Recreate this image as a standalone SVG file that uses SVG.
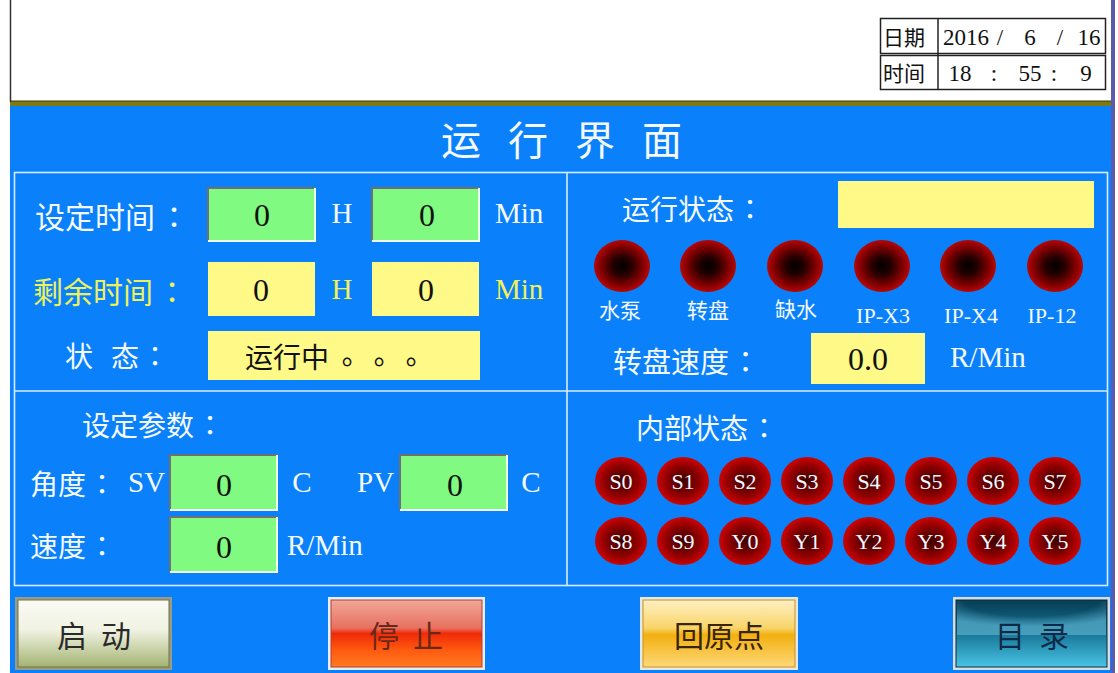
<svg xmlns="http://www.w3.org/2000/svg" width="1118" height="673" viewBox="0 0 1118 673">
<defs>
<style>
.cjk{font-family:"Noto Sans CJK SC","Noto Sans",sans-serif;dominant-baseline:central}
.lat{font-family:"Liberation Serif","Noto Sans CJK SC",serif;dominant-baseline:central}
.col{font-family:"Noto Sans CJK TC","Noto Sans CJK SC",sans-serif}
.w{fill:#f4faff}
.y{fill:#eef25a}
.k{fill:#111}
.mid{text-anchor:middle}
.gbox{fill:#80fa80}
.ybox{fill:#fffa88}
.frame{stroke:#d8ecff;stroke-width:1.6;fill:none}
.led{fill:url(#ledTop)}
.iled{fill:url(#ledIn)}
</style>
<radialGradient id="ledTop" cx="0.5" cy="0.5" r="0.5">
<stop offset="0" stop-color="#000"/>
<stop offset="0.35" stop-color="#260000"/>
<stop offset="0.75" stop-color="#820000"/>
<stop offset="1" stop-color="#b40808"/>
</radialGradient>
<radialGradient id="ledIn" cx="0.5" cy="0.5" r="0.5">
<stop offset="0" stop-color="#3a0000"/>
<stop offset="0.6" stop-color="#8a0000"/>
<stop offset="1" stop-color="#cc0404"/>
</radialGradient>
<linearGradient id="gStart" x1="0" y1="0" x2="0" y2="1">
<stop offset="0" stop-color="#fbfbf4"/>
<stop offset="0.45" stop-color="#f0f2e2"/>
<stop offset="1" stop-color="#a4b472"/>
</linearGradient>
<linearGradient id="gStop" x1="0" y1="0" x2="0" y2="1">
<stop offset="0" stop-color="#f0a898"/>
<stop offset="0.42" stop-color="#e87060"/>
<stop offset="0.5" stop-color="#f02a08"/>
<stop offset="0.75" stop-color="#ff5a10"/>
<stop offset="1" stop-color="#ff7a20"/>
</linearGradient>
<linearGradient id="gHome" x1="0" y1="0" x2="0" y2="1">
<stop offset="0" stop-color="#fff0c4"/>
<stop offset="0.42" stop-color="#f8d468"/>
<stop offset="0.52" stop-color="#f2b010"/>
<stop offset="1" stop-color="#ffd878"/>
</linearGradient>
<linearGradient id="gMenu" x1="0" y1="0" x2="0" y2="1">
<stop offset="0" stop-color="#083c54"/>
<stop offset="0.45" stop-color="#136e90"/>
<stop offset="1" stop-color="#48c4e4"/>
</linearGradient>
<radialGradient id="gMenuHi" cx="0.5" cy="0" r="0.75">
<stop offset="0.6" stop-color="#5ab0cc" stop-opacity="0"/>
<stop offset="1" stop-color="#5ab0cc" stop-opacity="0.7"/>
</radialGradient>
</defs>

<rect x="0" y="0" width="1118" height="673" fill="#fff"/>
<g id="screen">
<rect x="10" y="105" width="1102" height="568" fill="#0a80fa"/>
<rect x="10" y="101" width="1102" height="5" fill="#7c7a10"/>
<line x1="10" y1="101" x2="1112" y2="101" stroke="#3a3a10" stroke-width="1"/>
<line x1="10.5" y1="0" x2="10.5" y2="102" stroke="#303030" stroke-width="1.5"/>
<rect x="1111" y="0" width="4" height="673" fill="#5a5ab0"/>
</g>

<g id="datetime">
<rect x="880.5" y="18.5" width="225" height="35" fill="#fff" stroke="#222" stroke-width="1.5"/>
<rect x="880.5" y="55.5" width="225" height="34" fill="#fff" stroke="#222" stroke-width="1.5"/>
<line x1="938" y1="18" x2="938" y2="90" stroke="#222" stroke-width="1.5"/>
<text class="cjk k" x="883" y="36" font-size="21">日期</text>
<text class="cjk k" x="883" y="72" font-size="21">时间</text>
<text class="lat k mid" font-size="23" y="37"><tspan x="966">2016</tspan><tspan x="1000">/</tspan><tspan x="1030">6</tspan><tspan x="1060">/</tspan><tspan x="1089">16</tspan></text>
<text class="lat k mid" font-size="23" y="73"><tspan x="960">18</tspan><tspan x="994">:</tspan><tspan x="1030">55</tspan><tspan x="1054">:</tspan><tspan x="1086">9</tspan></text>
</g>

<g id="title">
<text class="cjk w" x="441" y="138" font-size="40" letter-spacing="27">运行界面</text>
</g>

<g id="connectors">
<rect class="frame" x="14.5" y="172.5" width="1093" height="413"/>
<line class="frame" x1="567" y1="172" x2="567" y2="586"/>
<line class="frame" x1="14" y1="391" x2="1108" y2="391"/>
</g>

<g id="set-time">
<text class="cjk w" x="35" y="215" font-size="30">设定时间<tspan class="col" dx="4">：</tspan></text>
<rect class="gbox" x="208" y="188" width="107" height="53"/>
<path d="M208 241V188H315" fill="none" stroke="#707070" stroke-width="2"/>
<path d="M208 241H315V188" fill="none" stroke="#f0fff0" stroke-width="2"/>
<text class="lat k mid" x="262" y="215" font-size="32">0</text>
<text class="lat w mid" x="342" y="213" font-size="29">H</text>
<rect class="gbox" x="372" y="188" width="107" height="53"/>
<path d="M372 241V188H479" fill="none" stroke="#707070" stroke-width="2"/>
<path d="M372 241H479V188" fill="none" stroke="#f0fff0" stroke-width="2"/>
<text class="lat k mid" x="427" y="215" font-size="32">0</text>
<text class="lat w" x="495" y="213" font-size="29">Min</text>
</g>

<g id="remain-time">
<text class="cjk y" x="33" y="290" font-size="30">剩余时间<tspan class="col" dx="4">：</tspan></text>
<rect class="ybox" x="208" y="262" width="107" height="54"/>
<text class="lat k mid" x="261" y="290" font-size="32">0</text>
<text class="lat y mid" x="342" y="289" font-size="29">H</text>
<rect class="ybox" x="372" y="262" width="107" height="54"/>
<text class="lat k mid" x="426" y="290" font-size="32">0</text>
<text class="lat y" x="495" y="289" font-size="29">Min</text>
</g>

<g id="state">
<text class="cjk w" x="65" y="355" font-size="28">状<tspan x="111">态</tspan><tspan class="col" dx="2">：</tspan></text>
<rect class="ybox" x="208" y="331" width="272" height="49"/>
<text class="cjk k" x="245" y="356" font-size="28">运行中<tspan class="col" x="333" y="361">。</tspan><tspan class="col" x="365" y="361">。</tspan><tspan class="col" x="397" y="361">。</tspan></text>
</g>

<g id="params">
<text class="cjk w" x="82" y="424" font-size="28">设定参数<tspan class="col" dx="2">：</tspan></text>
<text class="cjk w" x="30" y="483" font-size="28">角度<tspan class="col" dx="2">：</tspan></text>
<text class="lat w" x="128" y="482" font-size="29">SV</text>
<rect class="gbox" x="170" y="455" width="107" height="55"/>
<path d="M170 510V455H277" fill="none" stroke="#707070" stroke-width="2"/>
<path d="M170 510H277V455" fill="none" stroke="#f0fff0" stroke-width="2"/>
<text class="lat k mid" x="224" y="485" font-size="32">0</text>
<text class="lat w mid" x="302" y="482" font-size="29">C</text>
<text class="lat w" x="357" y="482" font-size="29">PV</text>
<rect class="gbox" x="400" y="455" width="107" height="55"/>
<path d="M400 510V455H507" fill="none" stroke="#707070" stroke-width="2"/>
<path d="M400 510H507V455" fill="none" stroke="#f0fff0" stroke-width="2"/>
<text class="lat k mid" x="455" y="485" font-size="32">0</text>
<text class="lat w mid" x="531" y="482" font-size="29">C</text>
<text class="cjk w" x="30" y="545" font-size="28">速度<tspan class="col" dx="2">：</tspan></text>
<rect class="gbox" x="170" y="517" width="107" height="55"/>
<path d="M170 572V517H277" fill="none" stroke="#707070" stroke-width="2"/>
<path d="M170 572H277V517" fill="none" stroke="#f0fff0" stroke-width="2"/>
<text class="lat k mid" x="224" y="547" font-size="32">0</text>
<text class="lat w" x="287" y="545" font-size="29">R/Min</text>
</g>

<g id="run-state">
<text class="cjk w" x="622" y="208" font-size="28">运行状态<tspan class="col" dx="2">：</tspan></text>
<rect class="ybox" x="838" y="181" width="256" height="47"/>
<ellipse class="led" cx="622" cy="266" rx="28" ry="26"/>
<ellipse class="led" cx="708" cy="266" rx="28" ry="26"/>
<ellipse class="led" cx="795" cy="266" rx="28" ry="26"/>
<ellipse class="led" cx="882" cy="266" rx="28" ry="26"/>
<ellipse class="led" cx="968" cy="266" rx="28" ry="26"/>
<ellipse class="led" cx="1055" cy="266" rx="28" ry="26"/>
<text class="cjk w mid" x="620" y="309" font-size="21">水泵</text>
<text class="cjk w mid" x="708" y="309" font-size="21">转盘</text>
<text class="cjk w mid" x="796" y="308" font-size="21">缺水</text>
<text class="lat w mid" x="883" y="315" font-size="22">IP-X3</text>
<text class="lat w mid" x="971" y="315" font-size="22">IP-X4</text>
<text class="lat w mid" x="1052" y="315" font-size="22">IP-12</text>
<text class="cjk w" x="613" y="360" font-size="29">转盘速度<tspan class="col" dx="2">：</tspan></text>
<rect class="ybox" x="811" y="333" width="114" height="51"/>
<text class="lat k mid" x="868" y="359" font-size="32">0.0</text>
<text class="lat w" x="950" y="357" font-size="29">R/Min</text>
</g>

<g id="internal-state">
<text class="cjk w" x="636" y="427" font-size="28">内部状态<tspan class="col" dx="2">：</tspan></text>
<g class="lat w mid" font-size="22">
<ellipse class="iled" cx="621" cy="481" rx="26" ry="24"/><text x="621" y="481">S0</text>
<ellipse class="iled" cx="683" cy="481" rx="26" ry="24"/><text x="683" y="481">S1</text>
<ellipse class="iled" cx="745" cy="481" rx="26" ry="24"/><text x="745" y="481">S2</text>
<ellipse class="iled" cx="807" cy="481" rx="26" ry="24"/><text x="807" y="481">S3</text>
<ellipse class="iled" cx="869" cy="481" rx="26" ry="24"/><text x="869" y="481">S4</text>
<ellipse class="iled" cx="931" cy="481" rx="26" ry="24"/><text x="931" y="481">S5</text>
<ellipse class="iled" cx="993" cy="481" rx="26" ry="24"/><text x="993" y="481">S6</text>
<ellipse class="iled" cx="1055" cy="481" rx="26" ry="24"/><text x="1055" y="481">S7</text>
<ellipse class="iled" cx="621" cy="541" rx="26" ry="24"/><text x="621" y="541">S8</text>
<ellipse class="iled" cx="683" cy="541" rx="26" ry="24"/><text x="683" y="541">S9</text>
<ellipse class="iled" cx="745" cy="541" rx="26" ry="24"/><text x="745" y="541">Y0</text>
<ellipse class="iled" cx="807" cy="541" rx="26" ry="24"/><text x="807" y="541">Y1</text>
<ellipse class="iled" cx="869" cy="541" rx="26" ry="24"/><text x="869" y="541">Y2</text>
<ellipse class="iled" cx="931" cy="541" rx="26" ry="24"/><text x="931" y="541">Y3</text>
<ellipse class="iled" cx="993" cy="541" rx="26" ry="24"/><text x="993" y="541">Y4</text>
<ellipse class="iled" cx="1055" cy="541" rx="26" ry="24"/><text x="1055" y="541">Y5</text>
</g>
</g>

<g id="btn-start">
<rect x="15" y="597" width="157" height="73" fill="#9a9a88"/>
<rect x="18" y="600" width="151" height="67" fill="url(#gStart)" stroke="#6e7440" stroke-width="1"/>
<text class="cjk mid" x="94" y="634" font-size="30" fill="#2a2a2a">启<tspan dx="14">动</tspan></text>
</g>

<g id="btn-stop">
<rect x="328" y="597" width="157" height="73" fill="#e8eef8"/>
<rect x="331" y="600" width="151" height="67" fill="url(#gStop)" stroke="#b04030" stroke-width="1"/>
<text class="cjk mid" x="406" y="634" font-size="30" fill="#6a2818">停<tspan dx="14">止</tspan></text>
</g>

<g id="btn-home">
<rect x="640" y="597" width="158" height="73" fill="#e8e8e0"/>
<rect x="643" y="600" width="152" height="67" fill="url(#gHome)" stroke="#c89020" stroke-width="1"/>
<text class="cjk mid" x="719" y="634" font-size="30" fill="#3a2408">回原点</text>
</g>

<g id="btn-menu">
<rect x="953" y="597" width="157" height="73" fill="#d8dce4"/>
<rect x="956" y="600" width="151" height="67" fill="url(#gMenu)" stroke="#06303e" stroke-width="1"/>
<rect x="957" y="601" width="149" height="34" fill="url(#gMenuHi)"/>
<text class="cjk mid" x="1032" y="634" font-size="30" fill="#0e2a48">目<tspan dx="14">录</tspan></text>
</g>
</svg>
